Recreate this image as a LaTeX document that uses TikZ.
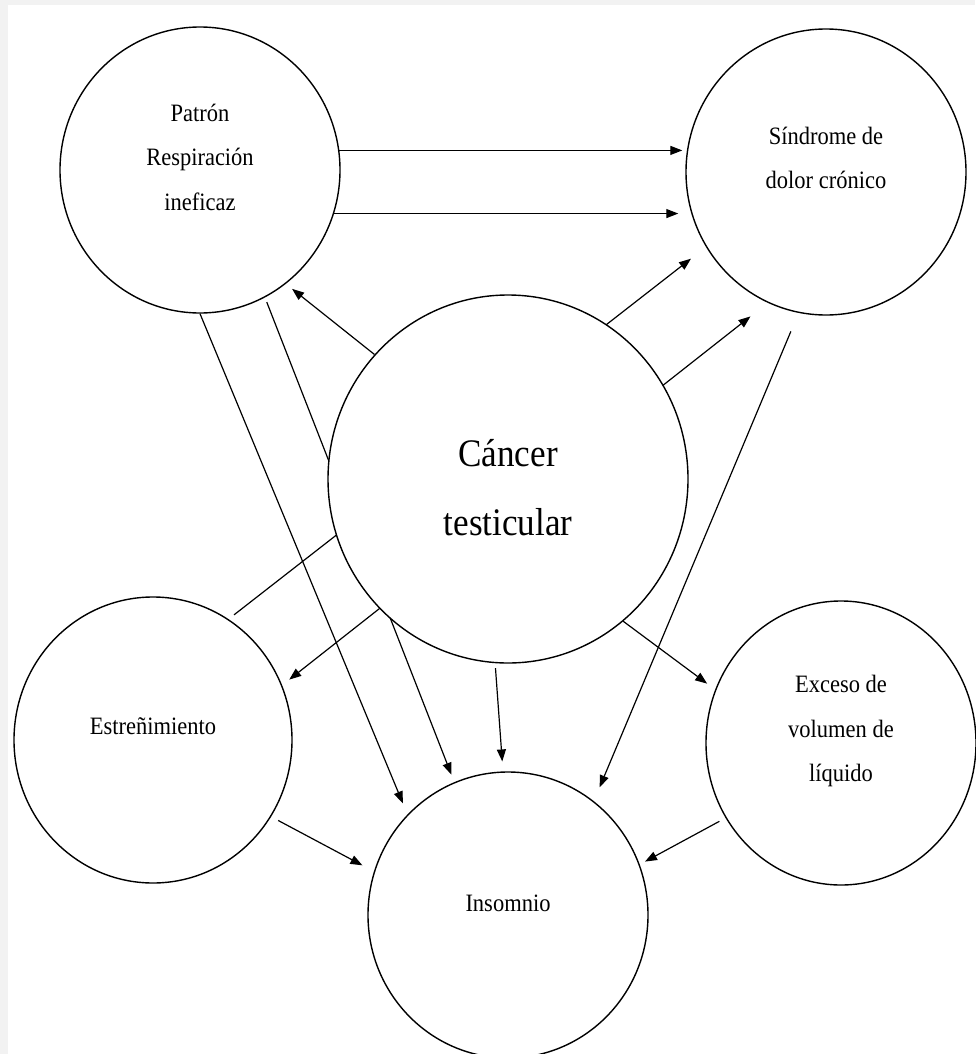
\documentclass[tikz,border=0pt]{standalone}
\usepackage{fontspec}
\setmainfont[FakeStretch=0.9]{Liberation Serif}
\usetikzlibrary{arrows.meta,shapes.geometric,backgrounds}
\tikzset{
	circ/.style={ellipse, draw, fill=white, line width=1.4pt, inner sep=0pt, minimum width=280pt, minimum height=286pt},
	txt/.style={align=center, font=\fontsize{25}{44.5}\selectfont},
	bigtxt/.style={align=center, font=\fontsize{39}{69}\selectfont},
	arr/.style={line width=1.2pt, -{Triangle[length=12pt,width=9pt]}},
	dbl/.style={line width=1.2pt, {Triangle[length=12pt,width=9pt]}-{Triangle[length=12pt,width=9pt]}}
}

\begin{document}
\begin{tikzpicture}[x=1pt, y=-1pt]
		%%%%% START %%%%%
		\useasboundingbox (0,0) rectangle (975,1054);
		
		\node[circ, label={[txt, yshift=13pt]center:Patrón\\Respiración\\ineficaz}] (pat) at (200,170) {};
		\node[circ, label={[txt, yshift=14pt]center:Síndrome de\\dolor crónico}] (sin) at (826,172) {};
		\node[circ, minimum width=360pt, minimum height=368pt, label={[bigtxt, yshift=-9pt]center:Cáncer\\testicular}] (can) at (508,479) {};
		\node[circ, minimum width=278pt, label={[txt, yshift=14pt]center:Estreñimiento}] (est) at (153,740) {};
		\node[circ, minimum width=270pt, minimum height=284pt, label={[txt, yshift=12pt]center:Exceso de\\volumen de\\líquido}] (exc) at (841,743) {};
		\node[circ, label={[txt, yshift=12pt]center:Insomnio}] (ins) at (508,915) {};
		
		\begin{pgfonlayer}{background}
			\fill[black!5] (0,0) rectangle (8,1054);
			\fill[black!5] (0,0) rectangle (975,5);
			
			\draw[arr, shorten >=3pt] (pat.8) -- (pat.8 -| sin.west);
			\draw[arr, shorten >=7pt] (pat.-18) -- (pat.-18 -| sin.west);
			\draw[arr, shorten >=8pt] (can.137) -- (pat.-53);
			
			% these two pass behind the big circle
			\draw[arr, shorten <=7pt, shorten >=19pt] (est.58) -- (sin.-148);
			\draw[dbl, shorten <=22pt, shorten >=9pt] (sin.-114) -- (est.23);
			\draw[arr, shorten <=5pt, shorten >=8pt] (pat.-63) -- (ins.112);
			
			\draw[arr, shorten <=20pt, shorten >=15pt] (sin.-101) -- (ins.53);
			\draw[arr, shorten >=12pt] (pat.-90) -- (ins.135);
			\draw[arr, shorten >=10pt] (can.-51) -- (exc.157);
			\draw[arr, shorten <=5pt, shorten >=10pt] (can.-94) -- (ins.92);
			\draw[arr, shorten <=8pt, shorten >=13pt] (est.-33) -- (ins.162);
			\draw[arr, shorten <=7pt, shorten >=6pt] (exc.-147) -- (ins.21);
		\end{pgfonlayer}
		
		%%%%% END %%%%%
\end{tikzpicture}
\end{document}
